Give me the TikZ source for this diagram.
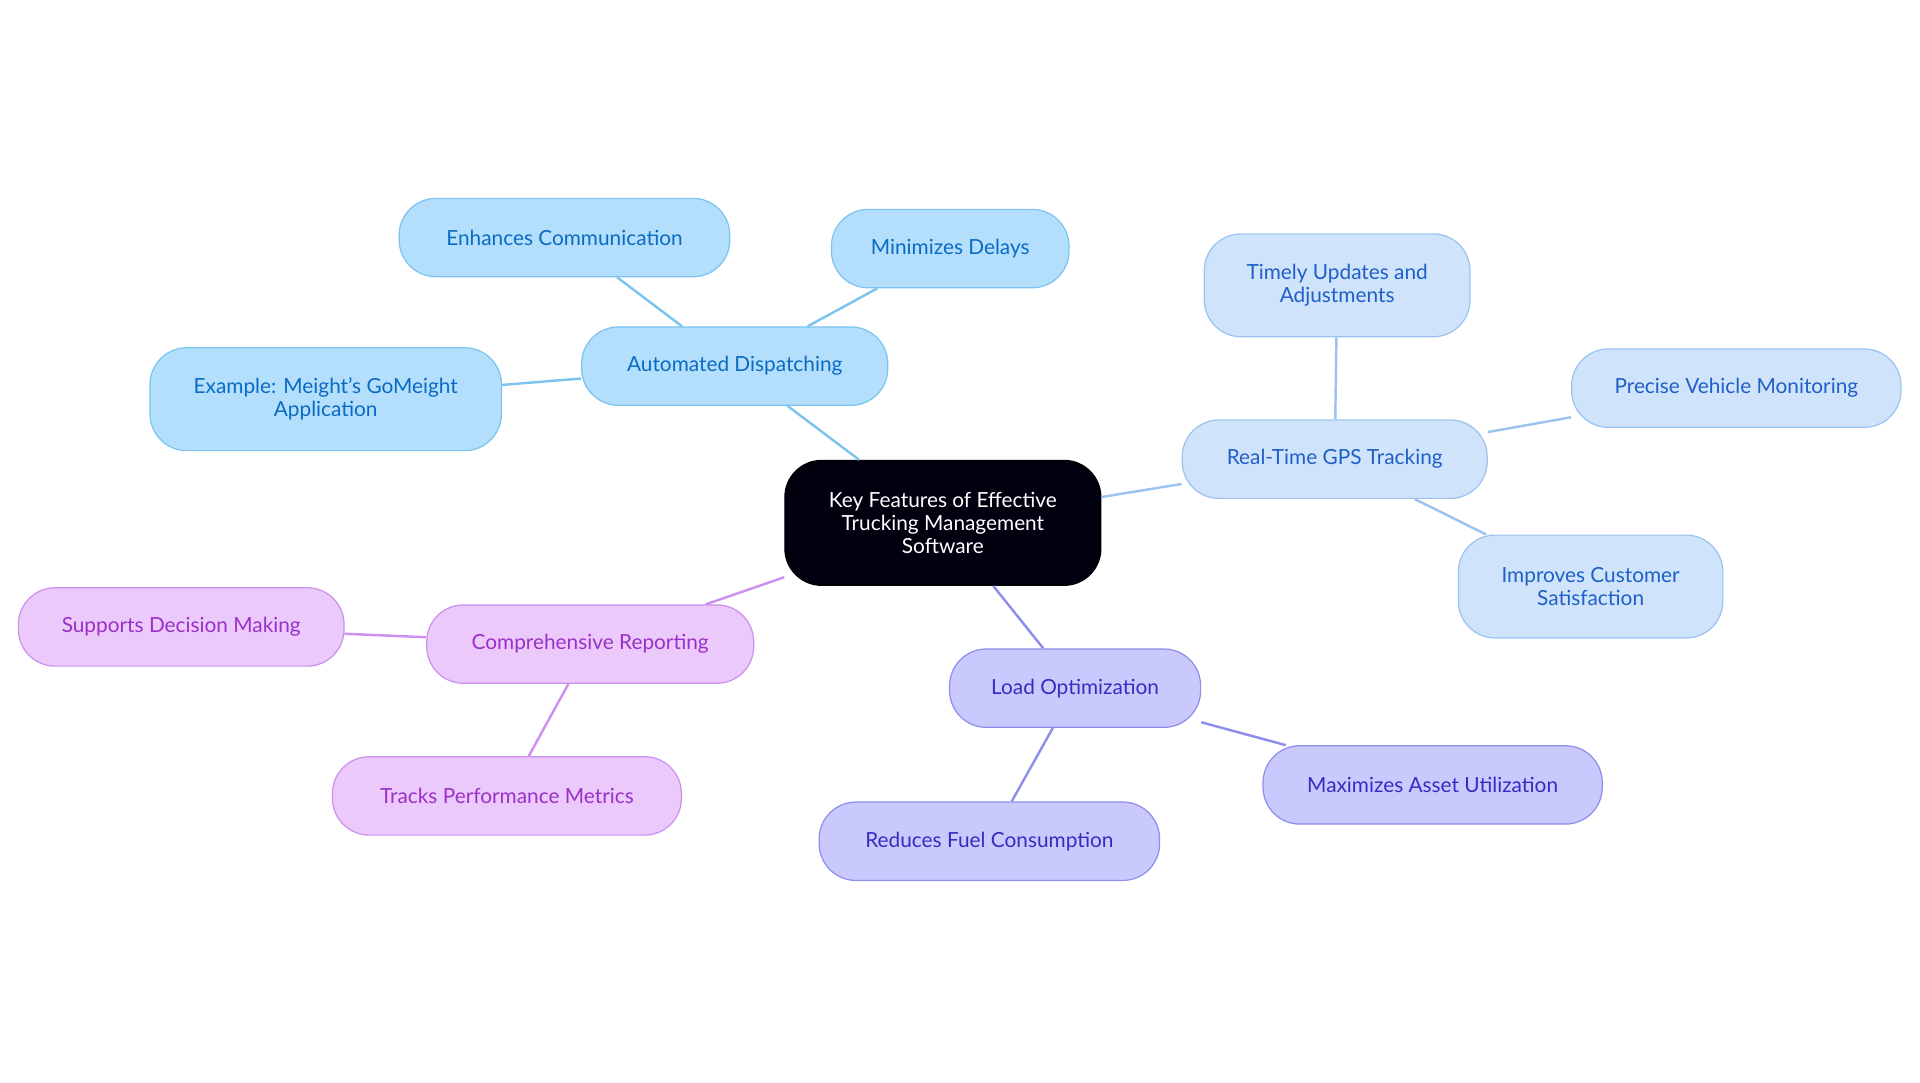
\documentclass[tikz,border=0pt]{standalone}
\usepackage{fontspec}
\setmainfont{Lato}
\begin{document}
\definecolor{bF}{HTML}{B3DFFD}\definecolor{bD}{HTML}{7CC3F0}\definecolor{bT}{HTML}{0A6BC2}
\definecolor{lF}{HTML}{CFE3FB}\definecolor{lD}{HTML}{9CC3F0}\definecolor{lT}{HTML}{1F5FC8}
\definecolor{pF}{HTML}{C9C9FD}\definecolor{pD}{HTML}{8E8EEB}\definecolor{pT}{HTML}{3A2BC0}
\definecolor{kF}{HTML}{EBC9FB}\definecolor{kD}{HTML}{CC90F0}\definecolor{kT}{HTML}{9A30C8}
\begin{tikzpicture}[x=1pt,y=-1pt,
 base/.style={rounded corners=30pt,draw,line width=1pt,align=center,font=\fontsize{17}{19}\selectfont,inner sep=0pt},
 B/.style={base,fill=bF,draw=bD,text=bT},
 L/.style={base,fill=lF,draw=lD,text=lT},
 P/.style={base,fill=pF,draw=pD,text=pT},
 K/.style={base,fill=kF,draw=kD,text=kT},
 eb/.style={draw=bD,line width=2pt},
 el/.style={draw=lD,line width=2pt},
 ep/.style={draw=pD,line width=2pt},
 ek/.style={draw=kD,line width=2pt}]
\useasboundingbox (0,0) rectangle (1568,884);
\node[base,fill=black!90!blue!60!black,draw=black,text=white,minimum width=258pt,minimum height=102pt] (c) at (770,427) {Key Features of Effective\\Trucking Management\\Software};
\node[B,minimum width=250pt,minimum height=64pt] (ad) at (600,299) {Automated Dispatching};
\node[B,minimum width=270pt,minimum height=64pt] (ec) at (461,194) {Enhances Communication};
\node[B,minimum width=194pt,minimum height=64pt] (md) at (776,203) {Minimizes Delays};
\node[B,minimum width=287pt,minimum height=84pt] (ex) at (266,326) {Example: Meight's GoMeight\\Application};
\node[L,minimum width=249pt,minimum height=64pt] (gps) at (1090,375) {Real-Time GPS Tracking};
\node[L,minimum width=217pt,minimum height=84pt] (tu) at (1092,233) {Timely Updates and\\Adjustments};
\node[L,minimum width=269pt,minimum height=64pt] (pv) at (1418,317) {Precise Vehicle Monitoring};
\node[L,minimum width=216pt,minimum height=84pt] (ic) at (1299,479) {Improves Customer\\Satisfaction};
\node[P,minimum width=205pt,minimum height=64pt] (lo) at (878,562) {Load Optimization};
\node[P,minimum width=278pt,minimum height=64pt] (rf) at (808,687) {Reduces Fuel Consumption};
\node[P,minimum width=277pt,minimum height=64pt] (ma) at (1170,641) {Maximizes Asset Utilization};
\node[K,minimum width=267pt,minimum height=64pt] (cr) at (482,526) {Comprehensive Reporting};
\node[K,minimum width=266pt,minimum height=64pt] (sd) at (148,512) {Supports Decision Making};
\node[K,minimum width=285pt,minimum height=64pt] (tp) at (414,650) {Tracks Performance Metrics};
\begin{scope}[on background layer/.try]
\end{scope}
\draw[eb] (c) -- (ad); \draw[eb] (ad) -- (ec); \draw[eb] (ad) -- (md); \draw[eb] (ad) -- (ex);
\draw[el] (c) -- (gps); \draw[el] (gps) -- (tu); \draw[el] (gps) -- (pv); \draw[el] (gps) -- (ic);
\draw[ep] (c) -- (lo); \draw[ep] (lo) -- (rf); \draw[ep] (lo) -- (ma);
\draw[ek] (c) -- (cr); \draw[ek] (cr) -- (sd); \draw[ek] (cr) -- (tp);
\end{tikzpicture}
\end{document}
